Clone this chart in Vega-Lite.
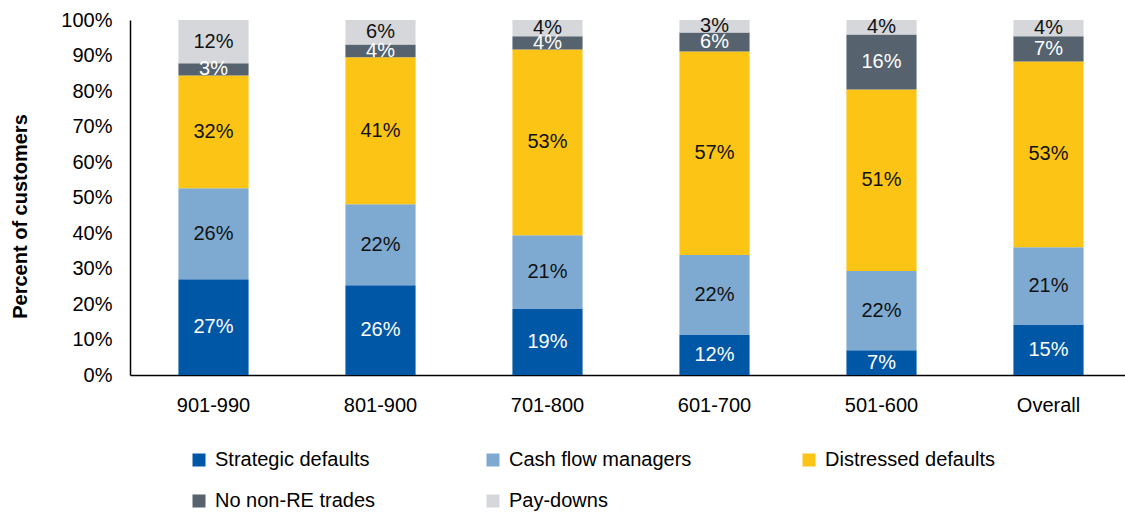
{
  "$schema": "https://vega.github.io/schema/vega-lite/v6.json",
  "width": 995,
  "height": 355,
  "autosize": "none",
  "padding": {"left": 130, "top": 20, "right": 0, "bottom": 137},
  "background": "white",
  "config": {
    "font": "Liberation Sans",
    "view": {"stroke": null},
    "axisY": {
      "titleFontSize": 20, "titleFontWeight": "bold", "titleColor": "#000",
      "titleAngle": 270, "titleX": -110, "titleY": 196,
      "titleAlign": "center", "titleBaseline": "middle",
      "labelFontSize": 20, "labelColor": "#000", "labelPadding": 18,
      "ticks": false, "tickSize": 0, "grid": false,
      "labelOverlap": false, "labelBound": false,
      "domainColor": "#000", "domainWidth": 1.5
    }
  },
  "data": {"values": [
    {"cat": "901-990", "series": "Strategic defaults", "ord": 1, "v": 27.0, "lab": "27%"},
    {"cat": "901-990", "series": "Cash flow managers", "ord": 2, "v": 25.6, "lab": "26%"},
    {"cat": "901-990", "series": "Distressed defaults", "ord": 3, "v": 31.8, "lab": "32%"},
    {"cat": "901-990", "series": "No non-RE trades", "ord": 4, "v": 3.4, "lab": "3%"},
    {"cat": "901-990", "series": "Pay-downs", "ord": 5, "v": 12.2, "lab": "12%"},
    {"cat": "801-900", "series": "Strategic defaults", "ord": 1, "v": 25.3, "lab": "26%"},
    {"cat": "801-900", "series": "Cash flow managers", "ord": 2, "v": 22.8, "lab": "22%"},
    {"cat": "801-900", "series": "Distressed defaults", "ord": 3, "v": 41.4, "lab": "41%"},
    {"cat": "801-900", "series": "No non-RE trades", "ord": 4, "v": 3.6, "lab": "4%"},
    {"cat": "801-900", "series": "Pay-downs", "ord": 5, "v": 6.9, "lab": "6%"},
    {"cat": "701-800", "series": "Strategic defaults", "ord": 1, "v": 18.6, "lab": "19%"},
    {"cat": "701-800", "series": "Cash flow managers", "ord": 2, "v": 20.8, "lab": "21%"},
    {"cat": "701-800", "series": "Distressed defaults", "ord": 3, "v": 52.3, "lab": "53%"},
    {"cat": "701-800", "series": "No non-RE trades", "ord": 4, "v": 3.7, "lab": "4%"},
    {"cat": "701-800", "series": "Pay-downs", "ord": 5, "v": 4.6, "lab": "4%"},
    {"cat": "601-700", "series": "Strategic defaults", "ord": 1, "v": 11.3, "lab": "12%"},
    {"cat": "601-700", "series": "Cash flow managers", "ord": 2, "v": 22.5, "lab": "22%"},
    {"cat": "601-700", "series": "Distressed defaults", "ord": 3, "v": 57.3, "lab": "57%"},
    {"cat": "601-700", "series": "No non-RE trades", "ord": 4, "v": 5.4, "lab": "6%"},
    {"cat": "601-700", "series": "Pay-downs", "ord": 5, "v": 3.5, "lab": "3%"},
    {"cat": "501-600", "series": "Strategic defaults", "ord": 1, "v": 7.0, "lab": "7%"},
    {"cat": "501-600", "series": "Cash flow managers", "ord": 2, "v": 22.3, "lab": "22%"},
    {"cat": "501-600", "series": "Distressed defaults", "ord": 3, "v": 51.1, "lab": "51%"},
    {"cat": "501-600", "series": "No non-RE trades", "ord": 4, "v": 15.5, "lab": "16%"},
    {"cat": "501-600", "series": "Pay-downs", "ord": 5, "v": 4.1, "lab": "4%"},
    {"cat": "Overall", "series": "Strategic defaults", "ord": 1, "v": 14.1, "lab": "15%"},
    {"cat": "Overall", "series": "Cash flow managers", "ord": 2, "v": 21.9, "lab": "21%"},
    {"cat": "Overall", "series": "Distressed defaults", "ord": 3, "v": 52.3, "lab": "53%"},
    {"cat": "Overall", "series": "No non-RE trades", "ord": 4, "v": 7.1, "lab": "7%"},
    {"cat": "Overall", "series": "Pay-downs", "ord": 5, "v": 4.6, "lab": "4%"}
  ]},
  "transform": [
    {"stack": "v", "groupby": ["cat"], "sort": [{"field": "ord", "order": "ascending"}], "as": ["v0", "v1"]},
    {"calculate": "(datum.v0 + datum.v1) / 2", "as": "mid"}
  ],
  "encoding": {
    "x": {
      "field": "cat", "type": "nominal", "sort": null,
      "scale": {"range": [0, 1002], "paddingInner": 0.58, "paddingOuter": 0.29},
      "axis": {
        "title": null, "labelAngle": 0, "labelFontSize": 20, "labelColor": "#000",
        "labelPadding": 20, "ticks": false, "tickSize": 0, "labelOverlap": false,
        "domainColor": "#000", "domainWidth": 1.5
      }
    }
  },
  "layer": [
    {
      "mark": {"type": "bar"},
      "encoding": {
        "y": {
          "field": "v0", "type": "quantitative",
          "scale": {"domain": [0, 100], "nice": false},
          "axis": {
            "title": "Percent of customers",
            "values": [0, 10, 20, 30, 40, 50, 60, 70, 80, 90, 100],
            "labelExpr": "datum.value + '%'"
          }
        },
        "y2": {"field": "v1"},
        "color": {
          "field": "series", "type": "nominal",
          "scale": {
            "domain": ["Strategic defaults", "Cash flow managers", "Distressed defaults", "No non-RE trades", "Pay-downs"],
            "range": ["#0057A6", "#7EAAD2", "#FCC516", "#56636F", "#D5D7DB"]
          },
          "legend": {
            "title": null, "orient": "none", "legendX": 59, "legendY": 430,
            "direction": "horizontal", "columns": 3, "padding": 0,
            "symbolType": "square", "symbolSize": 169, "symbolStrokeWidth": 0,
            "labelFontSize": 20, "labelColor": "#000", "labelOffset": 6, "labelLimit": 400,
            "columnPadding": 107, "rowPadding": 21
          }
        }
      }
    },
    {
      "mark": {"type": "text", "fontSize": 20, "baseline": "middle", "align": "center"},
      "encoding": {
        "y": {
          "field": "mid", "type": "quantitative",
          "axis": {
            "title": "Percent of customers",
            "values": [0, 10, 20, 30, 40, 50, 60, 70, 80, 90, 100],
            "labelExpr": "datum.value + '%'"
          }
        },
        "text": {"field": "lab"},
        "color": {
          "condition": {"test": "datum.series === 'Strategic defaults' || datum.series === 'No non-RE trades'", "value": "#ffffff"},
          "value": "#111111"
        }
      }
    }
  ]
}
